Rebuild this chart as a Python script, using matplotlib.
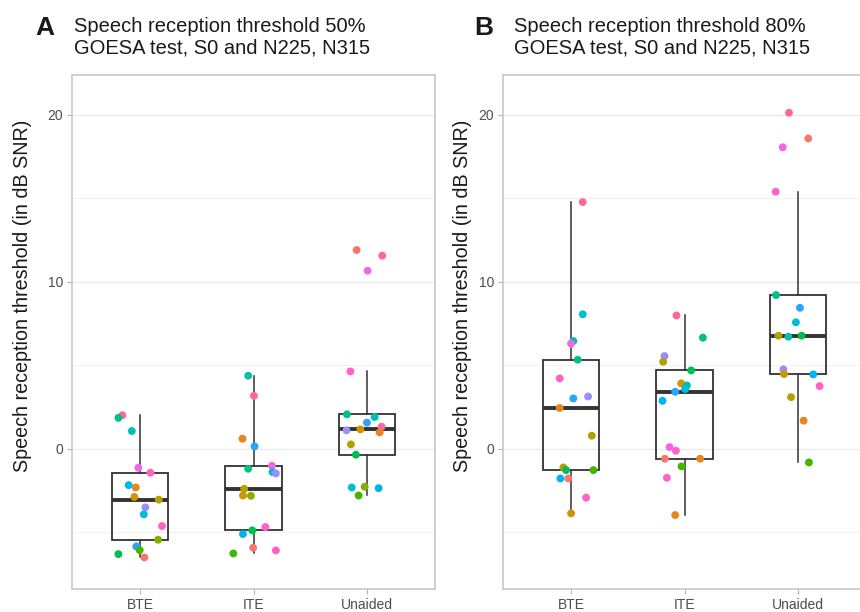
import numpy as np
import matplotlib
matplotlib.use("Agg")
import matplotlib.pyplot as plt

plt.rcParams['font.family'] = ['Liberation Sans', 'DejaVu Sans']

# ---------------- data ----------------
categories = ["BTE", "ITE", "Unaided"]
panel_letters = ["A", "B"]
panel_titles = ["Speech reception threshold 50%\nGOESA test, S0 and N225, N315",
                "Speech reception threshold 80%\nGOESA test, S0 and N225, N315"]
y_label = "Speech reception threshold (in dB SNR)"
y_ticks = [0, 10, 20]
y_minor = [-5, 5, 15]

# SRT50 values
srt50_bte = [2.0, 1.84, 1.05, -1.15, -1.45, -2.19, -2.33, -2.9, -3.06, -3.52, -3.94,
             -4.64, -5.46, -5.86, -6.08, -6.32, -6.52]
srt50_ite = [4.36, 3.16, 0.59, 0.13, -1.03, -1.21, -1.41, -1.49, -2.41, -2.81, -2.83,
             -4.7, -4.9, -5.12, -5.94, -6.1, -6.28]
srt50_unaided = [11.89, 11.55, 10.65, 4.62, 2.05, 1.89, 1.55, 1.31, 1.09, 1.15, 0.97,
                 0.25, -0.37, -2.33, -2.29, -2.37, -2.81]
# SRT80 values
srt80_bte = [14.76, 8.04, 6.44, 6.28, 5.32, 4.2, 3.0, 3.12, 2.43, 0.77, -1.13, -1.29,
             -1.29, -1.79, -1.79, -2.94, -3.88]
srt80_ite = [7.97, 6.64, 5.54, 5.2, 4.68, 3.9, 3.78, 3.56, 3.4, 2.86, 0.09, -0.13,
             -0.61, -0.61, -1.07, -1.75, -3.98]
srt80_unaided = [20.11, 18.57, 18.04, 15.38, 9.19, 8.43, 7.56, 6.76, 6.7, 6.76, 4.74,
                 4.46, 4.44, 3.74, 3.08, 1.67, -0.83]

# jitter offsets (category units)
jit50_bte = [-0.156, -0.191, -0.073, -0.015, 0.091, -0.100, -0.038, -0.050, 0.165, 0.047,
             0.033, 0.194, 0.159, -0.033, -0.003, -0.191, 0.038]
jit50_ite = [-0.047, 0.004, -0.097, 0.009, 0.162, -0.047, 0.167, 0.197, -0.082, -0.093,
             -0.023, 0.105, -0.011, -0.093, -0.003, 0.197, -0.178]
jit50_unaided = [-0.091, 0.135, 0.006, -0.146, -0.176, 0.068, 0.0, 0.129, -0.181, -0.058,
                 0.112, -0.141, -0.097, -0.134, -0.020, 0.103, -0.073]
jit80_bte = [0.103, 0.103, 0.020, 0.0, 0.059, -0.100, 0.020, 0.150, -0.100, 0.183, -0.068,
             -0.044, 0.197, -0.094, -0.024, 0.132, 0.0]
jit80_ite = [-0.071, 0.162, -0.176, -0.188, 0.059, -0.029, 0.021, 0.006, -0.082, -0.194,
             -0.132, -0.076, -0.173, 0.138, -0.026, -0.155, -0.082]
jit80_unaided = [-0.079, 0.091, -0.134, -0.196, -0.193, 0.018, -0.018, -0.172, -0.084,
                 0.032, -0.128, -0.123, 0.135, 0.191, -0.061, 0.050, 0.097]

# participant colour index (hue palette, 17 levels)
col50_bte = [16, 7, 8, 14, 15, 10, 1, 2, 3, 12, 9, 15, 4, 11, 5, 6, 0]
col50_ite = [8, 16, 1, 11, 14, 7, 9, 12, 3, 2, 4, 15, 6, 10, 0, 15, 5]
col50_unaided = [0, 16, 14, 15, 7, 8, 11, 16, 12, 2, 1, 3, 6, 9, 4, 10, 5]
col80_bte = [16, 9, 8, 14, 7, 15, 11, 12, 1, 3, 3, 6, 5, 10, 0, 15, 2]
col80_ite = [16, 7, 12, 3, 6, 2, 8, 9, 11, 10, 14, 15, 0, 1, 5, 15, 1]
col80_unaided = [16, 0, 14, 15, 7, 11, 9, 3, 8, 6, 12, 2, 10, 15, 3, 1, 5]
n_levels = 17


def hue_pal(n, h0=15, h1=375, c=100, l=65):
    hues = np.linspace(h0, h1, n + 1)[:-1]
    out = []
    Xn, Yn, Zn = 95.047, 100.0, 108.883
    un = 4 * Xn / (Xn + 15 * Yn + 3 * Zn)
    vn = 9 * Yn / (Xn + 15 * Yn + 3 * Zn)
    for h in hues:
        u = c * np.cos(np.radians(h))
        v = c * np.sin(np.radians(h))
        Y = Yn * ((l + 16) / 116) ** 3
        up = u / (13 * l) + un
        vp = v / (13 * l) + vn
        X = Y * 9 * up / (4 * vp)
        Z = Y * (12 - 3 * up - 20 * vp) / (4 * vp)
        xyz = np.array([X, Y, Z]) / 100.0
        M = np.array([[3.2404542, -1.5371385, -0.4985314],
                      [-0.9692660, 1.8760108, 0.0415560],
                      [0.0556434, -0.2040259, 1.0572252]])
        rgb = M @ xyz
        rgb = np.where(rgb <= 0.0031308, 12.92 * rgb, 1.055 * np.power(np.clip(rgb, 0, None), 1 / 2.4) - 0.055)
        out.append(tuple(np.clip(rgb, 0, 1)))
    return out


pal = hue_pal(n_levels)

panels = [
    ([srt50_bte, srt50_ite, srt50_unaided], [jit50_bte, jit50_ite, jit50_unaided],
     [col50_bte, col50_ite, col50_unaided]),
    ([srt80_bte, srt80_ite, srt80_unaided], [jit80_bte, jit80_ite, jit80_unaided],
     [col80_bte, col80_ite, col80_unaided]),
]

W, H = 860, 612
fig = plt.figure(figsize=(W / 100, H / 100), dpi=100)

ax_rects_px = [(72, 75, 435, 589), (503, 75, 866, 589)]
title_x_px = [74, 514]
letter_x_px = [35, 474]
ylabel_x_px = [23, 463]

for i, (vals, jits, cols) in enumerate(panels):
    x0, y0, x1, y1 = ax_rects_px[i]
    ax = fig.add_axes([x0 / W, 1 - y1 / H, (x1 - x0) / W, (y1 - y0) / H])
    ax.set_xlim(0.4, 3.6)
    ax.set_ylim(-8.41, 22.37)
    for yv in y_ticks:
        ax.axhline(yv, color='#EBEBEB', lw=1.0, zorder=0)
    for yv in y_minor:
        ax.axhline(yv, color='#F2F2F2', lw=0.8, zorder=0)

    bp = ax.boxplot(vals, positions=[1, 2, 3], widths=0.5, whis=1.5, showfliers=False,
                    patch_artist=True, manage_ticks=False,
                    boxprops=dict(facecolor='none', edgecolor='#333333', lw=1.3),
                    whiskerprops=dict(color='#333333', lw=1.1),
                    capprops=dict(lw=0),
                    medianprops=dict(color='#333333', lw=2.8, solid_capstyle='butt'))
    for k in range(3):
        xs = np.array(jits[k]) + (k + 1)
        cs = [pal[c] for c in cols[k]]
        ax.scatter(xs, vals[k], s=32, c=cs, edgecolors='none', zorder=3)

    ax.set_xticks([1, 2, 3])
    ax.set_xticklabels(categories, fontsize=10, color='#4D4D4D')
    ax.set_yticks(y_ticks)
    ax.set_yticklabels([str(t) for t in y_ticks], fontsize=10, color='#4D4D4D')
    ax.tick_params(axis='both', colors='#B3B3B3', length=3.5, width=0.8, labelcolor='#4D4D4D', pad=3)
    for s in ax.spines.values():
        s.set_color('#C8C8C8')
        s.set_linewidth(1.2)

    fig.text(letter_x_px[i] / W, 1 - 35 / H, panel_letters[i], fontsize=19, fontweight='bold',
             ha='left', va='baseline', color='#1a1a1a')
    fig.text(title_x_px[i] / W, 1 - 53 / H, panel_titles[i], fontsize=14.5, ha='left',
             va='baseline', color='#1a1a1a', linespacing=1.1)
    fig.text(ylabel_x_px[i] / W, 1 - 296 / H, y_label, fontsize=14.2, rotation=90,
             ha='center', va='center', color='#1a1a1a')

fig.savefig("out.png", dpi=100)
